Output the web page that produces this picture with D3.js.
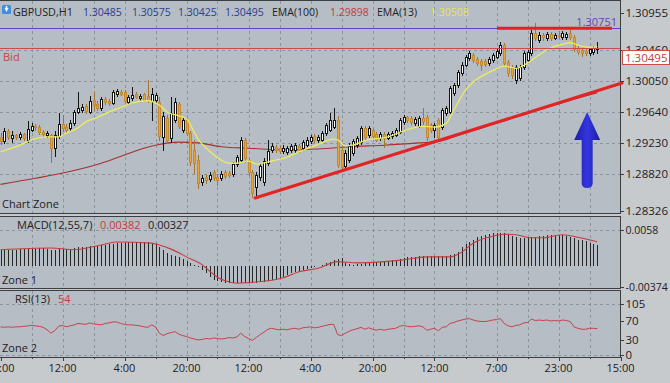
<!DOCTYPE html>
<html>
<head>
<meta charset="utf-8">
<title>GBPUSD,H1</title>
<script src="https://cdn.jsdelivr.net/npm/d3@7/dist/d3.min.js"></script>
<style>
  body { margin: 0; background: #c6cacd; }
  svg { display: block; font-family: "Open Sans", "Noto Sans", sans-serif; }
</style>
</head>
<body>
<svg id="chart" width="670" height="383"></svg>
<script>
// GBPUSD H1 candles (one per bar)
let open = [1.2931,1.2926,1.2939,1.2930,1.2933,1.2931,1.2935,1.2927,1.2940,1.2945,
1.2944,1.2937,1.2933,1.2933,1.2916,1.2932,1.2948,1.2944,1.2943,1.2949,
1.2964,1.2967,1.2972,1.2964,1.2980,1.2975,1.2969,1.2981,1.2979,1.2976,
1.2988,1.2991,1.2991,1.2977,1.2983,1.2988,1.2983,1.2988,1.2985,1.2979,
1.2980,1.2977,1.2931,1.2956,1.2930,1.2953,1.2975,1.2940,1.2953,1.2936,
1.2914,1.2900,1.2871,1.2878,1.2875,1.2884,1.2878,1.2876,1.2884,1.2883,
1.2882,1.2895,1.2900,1.2927,1.2900,1.2884,1.2864,1.2878,1.2871,1.2896,
1.2914,1.2918,1.2916,1.2912,1.2911,1.2914,1.2914,1.2919,1.2916,1.2920,
1.2926,1.2932,1.2927,1.2927,1.2936,1.2940,1.2944,1.2953,1.2914,1.2892,
1.2900,1.2910,1.2920,1.2924,1.2943,1.2933,1.2940,1.2935,1.2930,1.2935,
1.2930,1.2932,1.2933,1.2937,1.2951,1.2957,1.2956,1.2949,1.2945,1.2956,
1.2957,1.2947,1.2940,1.2953,1.2944,1.2963,1.2964,1.2989,1.3000,1.3016,
1.3026,1.3036,1.3040,1.3034,1.3032,1.3032,1.3029,1.3033,1.3037,1.3042,
1.3053,1.3030,1.3024,1.3007,1.3009,1.3024,1.3033,1.3042,1.3069,1.3060,
1.3066,1.3062,1.3068,1.3062,1.3066,1.3064,1.3064,1.3069,1.3064,1.3049,
1.3046,1.3045,1.3042,1.3044,1.30485];
let high = [1.2936,1.2943,1.2941,1.2939,1.2935,1.2937,1.2936,1.2952,1.2949,1.2948,
1.2947,1.2940,1.2939,1.2935,1.2939,1.2963,1.2960,1.2948,1.2953,1.2967,
1.2991,1.2975,1.2975,1.2985,1.2991,1.2979,1.2984,1.2984,1.2981,1.2993,
1.2995,1.2993,1.2993,1.2987,1.2997,1.2991,1.2988,1.2989,1.3007,1.2996,
1.2989,1.2984,1.2964,1.2960,1.2984,1.2983,1.2977,1.2957,1.2956,1.2939,
1.2927,1.2907,1.2880,1.2882,1.2884,1.2887,1.2882,1.2886,1.2887,1.2886,
1.2898,1.2907,1.2931,1.2930,1.2903,1.2887,1.2884,1.2896,1.2903,1.2927,
1.2923,1.2920,1.2919,1.2920,1.2919,1.2922,1.2923,1.2922,1.2927,1.2931,
1.2933,1.2935,1.2933,1.2939,1.2949,1.2963,1.2969,1.2959,1.2919,1.2914,
1.2923,1.2928,1.2932,1.2945,1.2945,1.2945,1.2943,1.2937,1.2937,1.2937,
1.2937,1.2939,1.2943,1.2956,1.2960,1.2959,1.2959,1.2957,1.2959,1.2969,
1.2960,1.2949,1.2949,1.2956,1.2969,1.2972,1.2999,1.3003,1.3020,1.3030,
1.3040,1.3045,1.3042,1.3037,1.3034,1.3034,1.3037,1.3042,1.3048,1.3057,
1.3056,1.3033,1.3026,1.3026,1.3026,1.3045,1.3046,1.3073,1.3082,1.3070,
1.3069,1.3070,1.3070,1.3069,1.3072,1.3072,1.3070,1.3073,1.3066,1.3052,
1.3049,1.3048,1.3050,1.3052,1.30575];
let low = [1.2922,1.2923,1.2928,1.2924,1.2928,1.2928,1.2927,1.2924,1.2939,1.2940,
1.2935,1.2932,1.2931,1.2898,1.2906,1.2930,1.2939,1.2937,1.2940,1.2947,
1.2963,1.2964,1.2963,1.2963,1.2967,1.2967,1.2967,1.2975,1.2973,1.2975,
1.2985,1.2987,1.2977,1.2975,1.2980,1.2983,1.2980,1.2979,1.2977,1.2953,
1.2976,1.2927,1.2914,1.2924,1.2924,1.2951,1.2943,1.2937,1.2933,1.2894,
1.2883,1.2863,1.2867,1.2870,1.2872,1.2874,1.2867,1.2874,1.2876,1.2878,
1.2879,1.2892,1.2898,1.2898,1.2880,1.2851,1.2853,1.2874,1.2867,1.2894,
1.2911,1.2911,1.2910,1.2910,1.2908,1.2911,1.2911,1.2911,1.2914,1.2919,
1.2923,1.2924,1.2924,1.2924,1.2933,1.2939,1.2943,1.2891,1.2888,1.2890,
1.2898,1.2907,1.2918,1.2922,1.2928,1.2931,1.2930,1.2926,1.2927,1.2918,
1.2928,1.2930,1.2932,1.2936,1.2948,1.2951,1.2948,1.2947,1.2944,1.2948,
1.2927,1.2937,1.2931,1.2930,1.2941,1.2960,1.2963,1.2987,1.2997,1.3013,
1.3025,1.3033,1.3030,1.3026,1.3020,1.3025,1.3026,1.3030,1.3036,1.3040,
1.3026,1.3012,1.3009,1.3003,1.3007,1.3021,1.3030,1.3040,1.3060,1.3057,
1.3060,1.3060,1.3060,1.3061,1.3062,1.3061,1.3061,1.3061,1.3045,1.3041,
1.3038,1.3040,1.3040,1.3041,1.30425];
let close = [1.2926,1.2939,1.2931,1.2933,1.2931,1.2935,1.2930,1.2941,1.2945,1.2944,
1.2937,1.2935,1.2936,1.2916,1.2933,1.2948,1.2943,1.2940,1.2949,1.2964,
1.2969,1.2971,1.2965,1.2979,1.2973,1.2969,1.2981,1.2977,1.2976,1.2991,
1.2992,1.2988,1.2979,1.2984,1.2987,1.2984,1.2985,1.2980,1.2980,1.2988,
1.2987,1.2932,1.2959,1.2927,1.2963,1.2977,1.2945,1.2953,1.2936,1.2898,
1.2896,1.2870,1.2876,1.2874,1.2880,1.2876,1.2874,1.2882,1.2879,1.2880,
1.2895,1.2904,1.2927,1.2903,1.2884,1.2857,1.2880,1.2892,1.2899,1.2912,
1.2919,1.2914,1.2912,1.2916,1.2916,1.2919,1.2920,1.2914,1.2924,1.2927,
1.2931,1.2927,1.2931,1.2936,1.2947,1.2953,1.2953,1.2894,1.2891,1.2910,
1.2919,1.2926,1.2930,1.2943,1.2931,1.2943,1.2932,1.2927,1.2935,1.2930,
1.2935,1.2936,1.2940,1.2953,1.2957,1.2953,1.2951,1.2955,1.2956,1.2952,
1.2931,1.2940,1.2947,1.2931,1.2967,1.2969,1.2996,1.3000,1.3017,1.3026,
1.3037,1.3042,1.3033,1.3029,1.3026,1.3028,1.3034,1.3040,1.3045,1.3053,
1.3029,1.3016,1.3013,1.3024,1.3024,1.3042,1.3044,1.3069,1.3062,1.3066,
1.3064,1.3068,1.3062,1.3066,1.3065,1.3069,1.3068,1.3064,1.3048,1.3044,
1.3042,1.3042,1.3048,1.3049,1.30495];

// moving averages, read at these bars
let ema13Idx = [0,5,8,12,15,17,20,22,25,28,32,34,38,41,43,46,48,50,51,54,57,59,61,64,66,70,74,77,81,86,87,89,91,94,100,104,109,112,115,117,118,120,122,124,127,130,133,136,139,142,145,147,149,152,154];
let ema13Val = [1.2911,1.2920,1.2927,1.2931,1.2931,1.2936,1.2943,1.2951,1.2957,1.2964,1.2972,1.2976,1.2979,1.2973,1.2964,1.2959,1.2955,1.2937,1.2928,1.2912,1.2900,1.2896,1.2896,1.2899,1.2895,1.2899,1.2904,1.2911,1.2919,1.2928,1.2927,1.2919,1.2920,1.2926,1.2931,1.2939,1.2945,1.2944,1.2949,1.2967,1.2976,1.2993,1.3004,1.3011,1.3019,1.3025,1.3022,1.3029,1.3040,1.3049,1.3054,1.3056,1.3053,1.3050,1.30508];
let ema100Idx = [0,9,17,26,32,37,40,46,51,57,64,73,82,90,99,108,113,118,123,128,133,138,143,148,154];
let ema100Val = [1.2868,1.2876,1.2884,1.2896,1.2907,1.2916,1.2920,1.2924,1.2923,1.2918,1.2916,1.2914,1.2915,1.2918,1.2920,1.2923,1.2925,1.2933,1.2941,1.2949,1.2957,1.2965,1.2973,1.2981,1.29898];

// MACD(12,55,7): histogram per bar, signal read at these bars
let macdHist = [0.0024,0.0024,0.0025,0.0025,0.0025,0.0026,0.0026,0.0026,0.0027,0.0027,
0.0028,0.0028,0.0027,0.0025,0.0025,0.0026,0.0026,0.0027,0.0027,0.0028,
0.0029,0.0030,0.0030,0.0031,0.0031,0.0032,0.0033,0.0033,0.0034,0.0035,
0.0036,0.0037,0.0037,0.0038,0.0038,0.0038,0.0037,0.0038,0.0038,0.0037,
0.0035,0.0030,0.0025,0.0020,0.0016,0.0015,0.0013,0.0010,0.0006,0.0003,
-0.0001,-0.0004,-0.0009,-0.0014,-0.0020,-0.0025,-0.0027,-0.0029,-0.0030,-0.0031,
-0.0031,-0.0031,-0.0030,-0.0030,-0.0030,-0.0030,-0.0030,-0.0029,-0.0029,-0.0028,
-0.0026,-0.0024,-0.0022,-0.0021,-0.0017,-0.0014,-0.0012,-0.0010,-0.0009,-0.0007,
-0.0005,-0.0004,-0.0002,-0.0001,0.0002,0.0005,0.0008,0.0010,0.0011,0.0003,
0.0001,0.0000,0.0001,0.0001,0.0002,0.0003,0.0003,0.0004,0.0004,0.0005,
0.0006,0.0007,0.0008,0.0010,0.0011,0.0012,0.0012,0.0013,0.0014,0.0014,
0.0014,0.0015,0.0015,0.0015,0.0015,0.0015,0.0016,0.0018,0.0021,0.0030,
0.0034,0.0038,0.0042,0.0046,0.0048,0.0050,0.0052,0.0053,0.0053,0.0053,
0.0053,0.0050,0.0048,0.0046,0.0045,0.0045,0.0045,0.0046,0.0047,0.0048,
0.0048,0.0049,0.0050,0.0050,0.0050,0.0050,0.0048,0.0046,0.0044,0.0042,
0.0041,0.0039,0.0036,0.0034,0.00327];
let macdSigIdx = [0,13,19,26,30,39,41,44,46,48,52,54,56,58,61,64,69,73,77,82,87,92,99,104,110,116,119,122,126,130,133,137,140,145,149,154];
let macdSigVal = [0.0025,0.0028,0.0025,0.0033,0.0038,0.0036,0.0033,0.0026,0.0020,0.0013,0.0000,-0.0011,-0.0021,-0.0027,-0.0031,-0.0030,-0.0027,-0.0022,-0.0012,-0.0006,0.0005,0.0003,0.0005,0.0008,0.0013,0.0013,0.0021,0.0036,0.0046,0.0051,0.0050,0.0045,0.0045,0.0050,0.0046,0.00382];

// RSI(13) per bar
let rsi = [58,57,58,57,58,58,59,60,61,60,59,
57,52,45,50,59,61,58,60,62,65,
64,63,66,64,63,62,65,66,68,68,
65,63,62,62,61,60,58,57,62,58,
45,40,44,46,48,43,40,38,35,33,31,32,
34,33,35,34,33,34,36,35,37,
45,38,34,30,36,42,47,53,
55,53,52,53,52,54,55,53,56,57,
58,56,57,59,61,63,63,42,40,45,
49,52,54,57,53,56,53,51,53,51,
53,54,55,59,61,59,58,59,60,58,
51,53,55,50,57,58,65,67,70,72,
74,75,72,70,69,69,70,72,73,75,
65,60,58,61,62,66,67,74,71,72,
71,72,70,71,70,72,71,69,58,55,
53,53,55,55,54];

// axis labels
let timeLabels = ["20:00","12:00","4:00","20:00","12:00","4:00","20:00","12:00","7:00","23:00","15:00"];
let priceTicks = [1.28326, 1.28820, 1.29230, 1.29640, 1.30050, 1.30460, 1.30955];
let macdTicks = [-0.00374, 0.0058];
let macdTickLabels = ["-0.00374", "0.0058"];
let rsiTicks = [0, 30, 70, 105];

// objects drawn on the chart
let bidPrice = 1.30495;
let highLevel = 1.30751;
let resistance = [[128.1, 1.30751], [157.8, 1.30751]];
let trendLine = [[65.7, 1.28499], [160.4, 1.30026]];
let arrowTip = [151.4, 1.2964];

let svg = d3.select("#chart");
let plotBg = "#b6bdc5", gridCol = "#8b95a1", borderCol = "#3b3e42", textCol = "#1f2023";

let xScale = d3.scaleLinear().domain([0, 160]).range([0.5, 620.5]);
let yPrice = d3.scaleLinear().domain([priceTicks[0], priceTicks[priceTicks.length - 1]]).range([211, 13]);
let yMacd = d3.scaleLinear().domain(macdTicks).range([287, 230]);
let yRsi = d3.scaleLinear().domain([0, 105]).range([355, 304]);

let panels = [
	{id: "clipMain", top: 0, bottom: 213},
	{id: "clipMacd", top: 216, bottom: 288},
	{id: "clipRsi", top: 290, bottom: 357}
];

let defs = svg.append("defs");
let grad = defs.append("linearGradient").attr("id", "arrowGrad").attr("x1", "0").attr("x2", "1").attr("y1", "0").attr("y2", "0");
grad.append("stop").attr("offset", "0").attr("stop-color", "#1c1ca6");
grad.append("stop").attr("offset", "0.5").attr("stop-color", "#3535e0");
grad.append("stop").attr("offset", "1").attr("stop-color", "#1c1ca6");

panels.forEach(function(p){
	svg.append("rect")
		.attr("x", -1).attr("y", p.top + 0.5)
		.attr("width", 621.5).attr("height", p.bottom - p.top)
		.attr("fill", plotBg)
		.attr("stroke", borderCol);
	defs.append("clipPath").attr("id", p.id)
		.append("rect")
		.attr("x", 0).attr("y", p.top + 1)
		.attr("width", 620).attr("height", p.bottom - p.top - 1);
});

function px(v){ return Math.round(v) + 0.5; }

// vertical grid, every 8 bars
let gridIdx = d3.range(8, 160, 8);
panels.forEach(function(p){
	svg.append("g").selectAll("line")
		.data(gridIdx)
		.enter()
		.append("line")
		.attr("x1", d => px(xScale(d))).attr("x2", d => px(xScale(d)))
		.attr("y1", p.top + 1).attr("y2", p.bottom)
		.attr("stroke", gridCol)
		.attr("stroke-dasharray", "3,3");
});

// horizontal grid
function hGrid(vals, scale){
	svg.append("g").selectAll("line")
		.data(vals)
		.enter()
		.append("line")
		.attr("x1", 0).attr("x2", 620)
		.attr("y1", d => px(scale(d))).attr("y2", d => px(scale(d)))
		.attr("stroke", gridCol)
		.attr("stroke-dasharray", "3,3");
}
hGrid(priceTicks.slice(1, -1), yPrice);
hGrid([macdTicks[1]], yMacd);
hGrid([0, 105], yRsi);

// ---------- main chart ----------
let main = svg.append("g").attr("clip-path", "url(#clipMain)");

main.append("line")  // 1.30751 level
	.attr("x1", 0).attr("x2", 620)
	.attr("y1", px(yPrice(highLevel))).attr("y2", px(yPrice(highLevel)))
	.attr("stroke", "#6a3cc4");

let ema100Line = d3.line().x(d => xScale(d[0])).y(d => yPrice(d[1])).curve(d3.curveMonotoneX);
main.append("path")
	.attr("d", ema100Line(ema100Idx.map((d, i) => [d, ema100Val[i]])))
	.attr("fill", "none")
	.attr("stroke", "#a8302f")
	.attr("stroke-width", 1.1);

let candles = close.map(function(c, i){
	return {i: i, o: open[i], h: high[i], l: low[i], c: c};
});

main.selectAll(".wick")
	.data(candles)
	.enter()
	.append("line")
	.attr("class", "wick")
	.attr("x1", d => px(xScale(d.i))).attr("x2", d => px(xScale(d.i)))
	.attr("y1", d => Math.round(yPrice(d.h))).attr("y2", d => Math.round(yPrice(d.l)) + 1)
	.attr("stroke", d => d.c >= d.o ? "#141414" : "#a8732c");

main.selectAll(".body")
	.data(candles)
	.enter()
	.append("rect")
	.attr("class", "body")
	.attr("x", d => Math.round(xScale(d.i)) - 0.5)
	.attr("width", 2)
	.attr("y", d => Math.round(yPrice(Math.max(d.o, d.c))) + 0.5)
	.attr("height", d => Math.max(1, Math.round(yPrice(Math.min(d.o, d.c))) - Math.round(yPrice(Math.max(d.o, d.c)))))
	.attr("fill", d => d.c >= d.o ? "#ffffff" : "#e7a23a")
	.attr("stroke", d => d.c >= d.o ? "#141414" : "#c58a30");

let ema13Line = d3.line().x(d => xScale(d[0])).y(d => yPrice(d[1])).curve(d3.curveMonotoneX);
main.append("path")
	.attr("d", ema13Line(ema13Idx.map((d, i) => [d, ema13Val[i]])))
	.attr("fill", "none")
	.attr("stroke", "#ecec5a")
	.attr("stroke-width", 1.3);

main.append("line")  // bid line
	.attr("x1", 0).attr("x2", 620)
	.attr("y1", px(yPrice(bidPrice))).attr("y2", px(yPrice(bidPrice)))
	.attr("stroke", "#cc4a4a");

svg.append("path")  // resistance
	.attr("d", d3.line().x(d => xScale(d[0])).y(d => yPrice(d[1]))(resistance))
	.attr("stroke", "#e62020")
	.attr("stroke-width", 3);

svg.append("path")  // trend line
	.attr("d", d3.line().x(d => xScale(d[0])).y(d => yPrice(d[1]))(trendLine))
	.attr("stroke", "#e22424")
	.attr("stroke-width", 3)
	.attr("stroke-linecap", "round");

let tx = xScale(arrowTip[0]), ty = yPrice(arrowTip[1]);
main.append("path")
	.attr("transform", `translate(${tx}, ${ty})`)
	.attr("d", "M0,0 L13,28 L5.5,28 L5.5,71 Q5.5,76 0,76 Q-5.5,76 -5.5,71 L-5.5,28 L-13,28 Z")
	.attr("fill", "url(#arrowGrad)");

// ---------- MACD ----------
let macd = svg.append("g").attr("clip-path", "url(#clipMacd)");
macd.selectAll(".hist")
	.data(macdHist)
	.enter()
	.append("line")
	.attr("class", "hist")
	.attr("x1", (d, i) => px(xScale(i))).attr("x2", (d, i) => px(xScale(i)))
	.attr("y1", Math.round(yMacd(0)) + 1)
	.attr("y2", d => Math.round(yMacd(d)))
	.attr("stroke", "#262626");

macd.append("path")
	.attr("d", d3.line().x(d => xScale(d[0])).y(d => yMacd(d[1])).curve(d3.curveMonotoneX)(macdSigIdx.map((d, i) => [d, macdSigVal[i]])))
	.attr("fill", "none")
	.attr("stroke", "#c43c3c")
	.attr("stroke-width", 1.1);

// ---------- RSI ----------
let rsiG = svg.append("g").attr("clip-path", "url(#clipRsi)");
rsiG.append("path")
	.attr("d", d3.line().x((d, i) => xScale(i)).y(d => yRsi(d))(rsi))
	.attr("fill", "none")
	.attr("stroke", "#c8414c")
	.attr("stroke-width", 1);

// ---------- right axis ----------
function rightAxis(vals, scale, fmt, size){
	let g = svg.append("g");
	g.selectAll("line")
		.data(vals)
		.enter()
		.append("line")
		.attr("x1", 620).attr("x2", 624)
		.attr("y1", d => px(scale(d))).attr("y2", d => px(scale(d)))
		.attr("stroke", borderCol);
	g.selectAll("text")
		.data(vals)
		.enter()
		.append("text")
		.attr("x", 625.5)
		.attr("y", d => scale(d) + 4)
		.attr("font-size", size || "11.5px")
		.attr("fill", textCol)
		.text(fmt);
}
rightAxis(priceTicks, yPrice, d3.format(".5f"));
rightAxis(macdTicks, yMacd, (d, i) => macdTickLabels[i], "10.5px");
rightAxis(rsiTicks, yRsi, d => d);

// bid price box
svg.append("rect")
	.attr("x", 622.5).attr("y", 50.5)
	.attr("width", 47).attr("height", 14)
	.attr("fill", "#ffffff")
	.attr("stroke", "#d04a4a");
svg.append("text")
	.attr("x", 625).attr("y", 62)
	.attr("font-size", "11.5px")
	.attr("fill", "#cc3a3a")
	.text(d3.format(".5f")(bidPrice));

// ---------- bottom axis ----------
let timeIdx = d3.range(0, 161, 16);
svg.append("g").selectAll("line")
	.data(d3.range(0, 161, 8))
	.enter()
	.append("line")
	.attr("x1", d => px(xScale(d))).attr("x2", d => px(xScale(d)))
	.attr("y1", 357).attr("y2", d => d % 16 === 0 ? 361 : 359)
	.attr("stroke", borderCol);
svg.append("g").selectAll("text")
	.data(timeIdx)
	.enter()
	.append("text")
	.attr("x", d => xScale(d))
	.attr("y", 372)
	.attr("text-anchor", "middle")
	.attr("font-size", "11px")
	.attr("fill", textCol)
	.text((d, i) => timeLabels[i]);

// ---------- labels ----------
function label(x, y, txt, col, size, anchor){
	svg.append("text")
		.attr("x", x).attr("y", y)
		.attr("font-size", size || "11px")
		.attr("fill", col || textCol)
		.attr("text-anchor", anchor || "start")
		.text(txt);
}
let fmt5 = d3.format(".5f");
let last = close.length - 1;

// icon
svg.append("rect").attr("x", 2).attr("y", 5).attr("width", 9).attr("height", 9).attr("rx", 1.5).attr("fill", "#3f8fe0");
svg.append("path").attr("d", "M4.5,8 L8.5,8 L6.5,12 Z M5.7,6 L7.3,6 L7.3,8 L5.7,8 Z").attr("fill", "#ffffff");

label(13, 16, "GBPUSD,H1", textCol, "10.8px");
label(83, 16, fmt5(open[last]), "#2b3c8e", "10.5px");
label(132, 16, fmt5(high[last]), "#2b3c8e", "10.5px");
label(178, 16, fmt5(low[last]), "#2b3c8e", "10.5px");
label(225, 16, fmt5(close[last]), "#2b3c8e", "10.5px");
label(272, 16, "EMA(100)", textCol, "10.5px");
label(330, 16, fmt5(ema100Val[ema100Val.length - 1]), "#c43c3c", "10.5px");
label(377, 16, "EMA(13)", textCol, "10.5px");
label(430, 16, fmt5(ema13Val[ema13Val.length - 1]), "#e6e650", "10.5px");

label(617, 26, fmt5(highLevel), "#6a3cc4", "11px", "end");
label(3, 61, "Bid", "#c84646", "11px");
label(2, 208, "Chart Zone", textCol, "11px");

label(17, 229, "MACD(12,55,7)", textCol, "11px");
label(100, 229, fmt5(macdSigVal[macdSigVal.length - 1]), "#c43c3c", "11px");
label(148, 229, fmt5(macdHist[last]), textCol, "11px");
label(2, 284, "Zone 1", textCol, "11px");

label(15, 303, "RSI(13)", textCol, "11px");
label(58, 303, rsi[last], "#c43c3c", "11px");
label(2, 352, "Zone 2", textCol, "11px");
</script>
</body>
</html>
